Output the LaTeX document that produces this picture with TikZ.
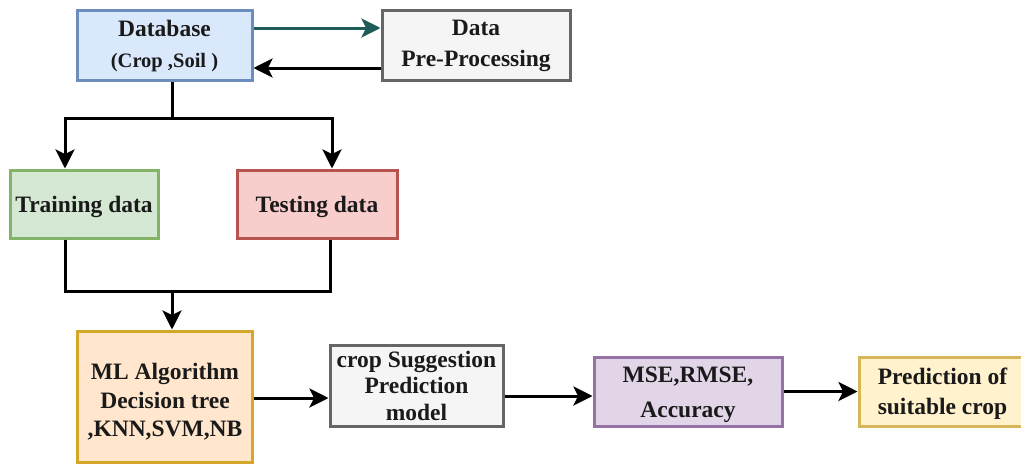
\documentclass[tikz,border=0pt]{standalone}
\usepackage{fontspec}
\setmainfont{Liberation Serif}
\usetikzlibrary{arrows.meta,calc}
\definecolor{txt}{HTML}{1A1A1A}
\definecolor{teal2}{HTML}{1D5C58}
\definecolor{dbfill}{HTML}{DAE8FC}\definecolor{dbdraw}{HTML}{6C8EBF}
\definecolor{grfill}{HTML}{F5F5F5}\definecolor{grdraw}{HTML}{666666}
\definecolor{trfill}{HTML}{D5E8D4}\definecolor{trdraw}{HTML}{82B366}
\definecolor{tefill}{HTML}{F8CECC}\definecolor{tedraw}{HTML}{B85450}
\definecolor{mlfill}{HTML}{FFE6CC}\definecolor{mldraw}{HTML}{D6A628}
\definecolor{msfill}{HTML}{E1D5E7}\definecolor{msdraw}{HTML}{9673A6}
\definecolor{prfill}{HTML}{FFF2CC}\definecolor{prdraw}{HTML}{D6B656}
\newcommand{\strt}[1]{\rule{0pt}{#1pt}}
\tikzset{
  box/.style={draw, line width=3pt, inner sep=0pt, align=center, text=txt,
    font=\fontsize{23.5}{28}\selectfont\bfseries},
  conn/.style={line width=3pt, -{Stealth[length=19pt,width=19pt,inset=4.5pt]}},
  wire/.style={line width=3pt}
}
\begin{document}
\begin{tikzpicture}[x=1pt,y=-1pt]
\useasboundingbox (0,0) rectangle (1021,464);
\node[box, fill=dbfill, draw=dbdraw, minimum width=175pt, minimum height=70pt,
  font=\fontsize{23.5}{31}\selectfont\bfseries] (db) at (164.5,45)
  {\strt{19}Database\\\fontsize{20.5}{31}\selectfont (Crop ,Soil )};
\node[box, fill=grfill, draw=grdraw, minimum width=188pt, minimum height=70pt,
  font=\fontsize{23.5}{31}\selectfont\bfseries] (dp) at (476,45) {\strt{18}Data\\Pre-Processing};
\node[box, fill=trfill, draw=trdraw, minimum width=148pt, minimum height=68pt] (train) at (84,204) {\strt{23}Training data};
\node[box, fill=tefill, draw=tedraw, minimum width=160pt, minimum height=68pt] (test) at (317,204) {\strt{23}Testing data};
\node[box, fill=mlfill, draw=mldraw, minimum width=175pt, minimum height=131pt,
  font=\fontsize{23.5}{28.5}\selectfont\bfseries] (ml) at (165,396.5) {\strt{27}ML Algorithm\\Decision tree\\,KNN,SVM,NB};
\node[box, fill=grfill, draw=grdraw, minimum width=173pt, minimum height=81pt,
  font=\fontsize{23.5}{26.5}\selectfont\bfseries] (crop) at (416.5,385.5) {crop Suggestion\\Prediction\\model};
\node[box, fill=msfill, draw=msdraw, minimum width=188pt, minimum height=69pt,
  font=\fontsize{23.5}{35}\selectfont\bfseries] (mse) at (688,391.5) {\strt{22}MSE,RMSE,\\Accuracy};
\node[box, fill=prfill, draw=prdraw, minimum width=167pt, minimum height=69pt,
  font=\fontsize{23.5}{30}\selectfont\bfseries] (pred) at (942.5,391.5) {\strt{21}Prediction of\\suitable crop};

% top arrows
\draw[conn, teal2] ([yshift=17pt]db.east) -- ([yshift=17pt]db.east -| dp.west);
\draw[conn] ([yshift=-23pt]dp.west) -- ([yshift=-23pt]dp.west -| db.east);

% split to training/testing
\coordinate (split) at (172,118);
\draw[wire] (db.south -| split) -- (split);
\draw[conn] (split) -| ($(train.north)+(-19,0)$);
\draw[conn] (split) -| ($(test.north)+(15,0)$);

% merge to ML
\coordinate (merge) at (172,291);
\draw[wire] ($(train.south)+(-19,0)$) |- (merge);
\draw[wire] ($(test.south)+(13,0)$) |- (merge);
\draw[conn] (merge) -- (merge |- ml.north);

% bottom row
\draw[conn] ([yshift=-1.5pt]ml.east) -- ([yshift=-1.5pt]ml.east -| crop.west);
\draw[conn] ([yshift=-10.5pt]crop.east) -- ([yshift=-10.5pt]crop.east -| mse.west);
\draw[conn] (mse.east) -- (pred.west);
\end{tikzpicture}
\end{document}
